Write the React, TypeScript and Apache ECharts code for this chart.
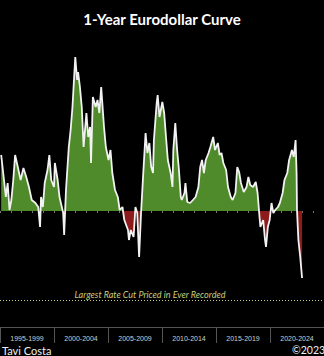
import React, { useEffect, useRef } from "react";
import * as echarts from "echarts";

// Decimal years (x) and 1-year eurodollar curve values (percentage points)
const years = [
  1995.11, 1995.37, 1995.54, 1995.71, 1995.88, 1996.05, 1996.23, 1996.4, 1996.65, 1996.91,
  1997.17, 1997.43, 1997.68, 1997.94, 1998.28, 1998.54, 1998.71, 1998.8, 1998.97, 1999.14,
  1999.4, 1999.57, 1999.74, 2000.0, 2000.08, 2000.34, 2000.51, 2000.85, 2000.94, 2001.11,
  2001.37, 2001.54, 2001.71, 2001.97, 2002.14, 2002.23, 2002.4, 2002.57, 2002.74, 2003.0,
  2003.17, 2003.34, 2003.43, 2003.6, 2003.86, 2004.03, 2004.2, 2004.37, 2004.63, 2004.8,
  2005.05, 2005.23, 2005.4, 2005.65, 2005.91, 2006.08, 2006.34, 2006.51, 2006.85, 2006.94,
  2007.11, 2007.37, 2007.54, 2007.71, 2007.88, 2008.06, 2008.23, 2008.48, 2008.65, 2008.83,
  2009.0, 2009.17, 2009.25, 2009.51, 2009.6, 2009.77, 2010.03, 2010.2, 2010.37, 2010.54,
  2010.8, 2010.97, 2011.05, 2011.23, 2011.4, 2011.57, 2011.74, 2011.83, 2012.08, 2012.17,
  2012.34, 2012.6, 2012.86, 2013.11, 2013.37, 2013.54, 2013.71, 2013.88, 2014.05, 2014.31,
  2014.48, 2014.74, 2014.91, 2015.17, 2015.34, 2015.51, 2015.68, 2015.94, 2016.11, 2016.37,
  2016.54, 2016.8, 2016.97, 2017.14, 2017.31, 2017.57, 2017.83, 2018.0, 2018.17, 2018.43,
  2018.68, 2018.85, 2019.03, 2019.11, 2019.37, 2019.54, 2019.63, 2019.8, 2019.97, 2020.14,
  2020.31, 2020.48, 2020.74, 2020.91, 2021.17, 2021.34, 2021.6, 2021.77, 2022.03, 2022.2,
  2022.37, 2022.46, 2022.5, 2022.63, 2022.8, 2022.97,
];
const values = [
  1.12, 0.62, 0.28, 0.56, 0.02, 0.22, 0.62, 1.12, 0.88, 0.62,
  0.86, 0.68, 0.48, 0.22, 0.16, 0.08, -0.32, 0.28, 0.08, 0.56,
  0.82, 1.12, 0.62, 0.48, 0.96, 0.62, 0.28, -0.04, -0.48, 0.42,
  1.28, 1.62, 2.08, 3.08, 2.62, 2.78, 2.48, 2.08, 1.28, 1.96,
  1.48, 1.68, 0.96, 2.28, 2.08, 2.22, 1.96, 2.48, 1.68, 1.28,
  1.02, 1.22, 0.76, 0.42, 0.28, 0.02, 0.08, -0.18, -0.38, -0.58,
  -0.38, -0.52, 0.08, -0.04, -0.92, -0.04, 0.62, 1.56, 1.16, 1.36,
  0.88, 0.76, 1.42, 2.16, 2.32, 1.88, 2.18, 1.96, 1.48, 1.02,
  0.76, 0.48, 1.22, 1.76, 1.22, 0.82, 0.28, 0.22, 0.36, 0.56,
  0.18, 0.16, 0.22, 0.28, 0.48, 0.88, 1.02, 0.76, 1.02, 1.16,
  1.28, 1.48, 1.22, 1.36, 1.12, 1.16, 0.96, 0.82, 0.48, 0.28,
  0.22, 0.36, 0.88, 0.78, 0.56, 0.38, 0.48, 0.68, 0.52, 0.48,
  0.58, 0.36, -0.12, -0.32, -0.18, -0.58, -0.72, -0.32, -0.18, 0.16,
  -0.04, 0.02, 0.08, 0.16, 0.36, 0.62, 0.76, 1.02, 1.22, 1.08,
  1.42, 0.76, 0.02, -0.58, -0.92, -1.34,
];
const bandLabels = ["1995-1999", "2000-2004", "2005-2009", "2010-2014", "2015-2019", "2020-2024"];
const recordCut = -1.78;
const titleText = "1-Year Eurodollar Curve";
const recordLabel = "Largest Rate Cut Priced in Ever Recorded";

export default function App() {
  const ref = useRef<HTMLDivElement>(null);
  useEffect(() => {
    document.body.style.margin = "0";
    document.body.style.background = "#000";
    const chart = echarts.init(ref.current!, undefined, { renderer: "svg" });
    const zeroY = 211;
    const H = 356;
    const fill = new echarts.graphic.LinearGradient(
      0, 0, 0, H,
      [
        { offset: 0, color: "#4f8a2b" },
        { offset: zeroY / H, color: "#4f8a2b" },
        { offset: zeroY / H, color: "#8e1b1b" },
        { offset: 1, color: "#8e1b1b" },
      ],
      true
    );
    chart.setOption({
      animation: false,
      backgroundColor: "#000",
      title: {
        text: titleText,
        left: "center",
        top: 6,
        textStyle: { color: "#fff", fontSize: 15, fontWeight: "bold", fontFamily: "Lato" },
      },
      grid: { left: -1.3, right: -24.3, top: 35, bottom: 29 },
      xAxis: [
        {
          type: "value",
          min: 1995,
          max: 2025,
          interval: 1,
          axisLine: { show: false },
          axisLabel: { show: false },
          axisTick: { show: true, length: 2, lineStyle: { color: "#777" } },
          splitLine: { show: false },
        },
        {
          type: "category",
          data: bandLabels,
          position: "bottom",
          boundaryGap: true,
          axisLine: { show: true, lineStyle: { color: "#555" } },
          axisTick: { show: true, length: 16, lineStyle: { color: "#555" } },
          axisLabel: { color: "#cfcfcf", fontSize: 7, margin: 8, fontFamily: "Liberation Sans Narrow, Liberation Sans" },
        },
      ],
      yAxis: {
        type: "value",
        min: -2.32,
        max: 3.52,
        show: false,
        splitLine: { show: false },
      },
      series: [
        {
          type: "line",
          xAxisIndex: 0,
          data: years.map((y, i) => [y, values[i]]),
          symbol: "none",
          lineStyle: { color: "#f2f2f2", width: 1.8 },
          areaStyle: { color: fill, opacity: 1, origin: 0 },
          markLine: {
            silent: true,
            symbol: "none",
            label: { show: false },
            lineStyle: { color: "#c9cc7c", type: [1, 2], width: 1 },
            data: [{ yAxis: recordCut }],
          },
        },
      ],
      graphic: [
        {
          type: "text",
          x: 150,
          y: 294,
          style: {
            text: recordLabel,
            fill: "#c9cc7c",
            fontSize: 9,
            fontStyle: "italic",
            fontFamily: "Lato",
            align: "center",
            verticalAlign: "middle",
          },
        },
        {
          type: "text",
          x: 2,
          y: 350,
          style: { text: "Tavi Costa", fill: "#f0f0f0", fontSize: 11, fontFamily: "Lato", verticalAlign: "middle" },
        },
        {
          type: "text",
          x: 292,
          y: 350,
          style: { text: "©2023", fill: "#f0f0f0", fontSize: 10.5, fontFamily: "Lato", verticalAlign: "middle" },
        },
      ],
    });
    return () => chart.dispose();
  }, []);
  return <div ref={ref} style={{ width: 324, height: 356, background: "#000" }} />;
}
